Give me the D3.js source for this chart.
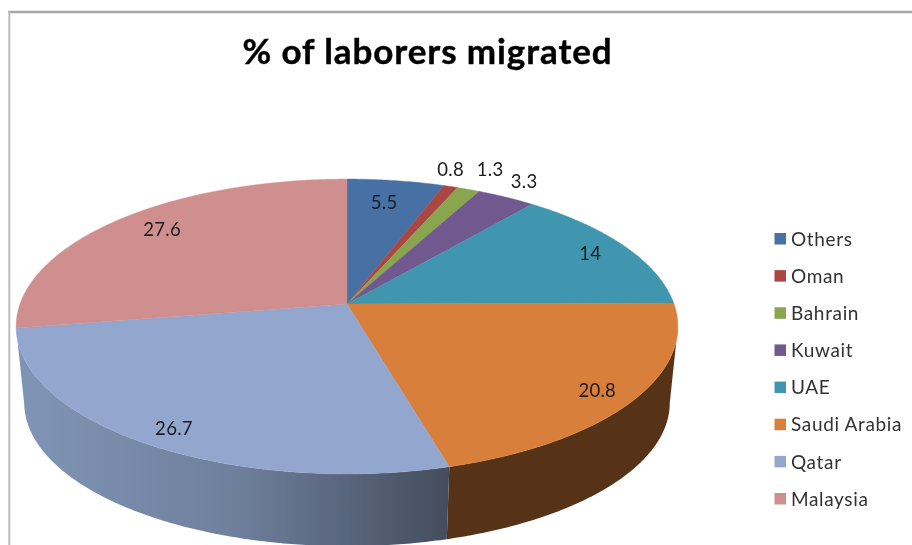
<!DOCTYPE html>
<html>
<head>
<meta charset="utf-8">
<title>% of laborers migrated</title>
<script src="https://cdn.jsdelivr.net/npm/d3@7"></script>
<style>
    html, body { margin: 0; padding: 0; background: #fff; }
    svg { display: block; }
    text { font-family: Lato, "Open Sans", sans-serif; }
</style>
</head>
<body>
<div id="chart"></div>
<script>
    // data
    const categories = ["Others", "Oman", "Bahrain", "Kuwait", "UAE", "Saudi Arabia", "Qatar", "Malaysia"];
    const shares = [5.5, 0.8, 1.3, 3.3, 14, 20.8, 26.7, 27.6];
    const colors = ["#4671a5", "#aa4643", "#89a54e", "#71588f", "#4096ae", "#d87f3b", "#92a6ce", "#cf8f8e"];

    const width = 912, height = 545;

    // perspective disc: far side is squeezed, so the apex sits above the ellipse centre
    const cx = 347, tilt = 0.1525;
    const topDisc = {y: 304, rx: 327, ry: 144};
    const bottomDisc = {y: 381, rx: 319, ry: 140};

    function project(disc, angle, r = 1) {
        let u = Math.sin(angle) * r, v = Math.cos(angle) * r;
        let d = 1 + tilt * v;
        return [cx + disc.rx * u / d, disc.y - disc.ry * v / d];
    }

    function arcPoints(disc, a0, a1) {
        let n = Math.max(2, Math.ceil(Math.abs(a1 - a0) / 0.01));
        return d3.range(n + 1).map(i => project(disc, a0 + (a1 - a0) * i / n));
    }

    let svg = d3.select("#chart").append("svg")
        .attr("width", width)
        .attr("height", height);

    let defs = svg.append("defs");
    defs.append("filter").attr("id", "soft")
        .attr("x", 0).attr("y", 0).attr("width", 1).attr("height", 1)
        .append("feGaussianBlur").attr("stdDeviation", 0.55);

    let qatarSide = defs.append("linearGradient").attr("id", "sideQatar")
        .attr("gradientUnits", "userSpaceOnUse")
        .attr("x1", 16).attr("x2", 449).attr("y1", 0).attr("y2", 0);
    qatarSide.append("stop").attr("offset", 0).attr("stop-color", "#8095b6");
    qatarSide.append("stop").attr("offset", 0.5).attr("stop-color", "#6f809d");
    qatarSide.append("stop").attr("offset", 1).attr("stop-color", "#444d5d");

    let root = svg.append("g").attr("filter", "url(#soft)");

    // chart frame, only top and left show
    root.append("rect").attr("x", 0).attr("y", 0).attr("width", width).attr("height", height).attr("fill", "#fff");
    root.append("line").attr("x1", 8).attr("x2", width).attr("y1", 12).attr("y2", 12)
        .attr("stroke", "#a8a8a8").attr("stroke-width", 2.6);
    root.append("line").attr("x1", 9.3).attr("x2", 9.3).attr("y1", 11).attr("y2", height)
        .attr("stroke", "#bdbdbd").attr("stroke-width", 2);

    root.append("text")
        .attr("x", 427.5).attr("y", 63.5)
        .attr("text-anchor", "middle")
        .attr("font-size", 35)
        .attr("font-weight", 700)
        .attr("letter-spacing", 0.9)
        .attr("stroke", "#000")
        .attr("stroke-width", 0.4)
        .attr("fill", "#000")
        .text("% of laborers migrated");

    let pie = d3.pie().sort(null).value(d => d).startAngle(0).endAngle(2 * Math.PI);
    let arcs = pie(shares);

    // walls are only visible between the two silhouette tangents
    const frontStart = Math.PI - Math.acos(tilt);
    const frontEnd = Math.PI + Math.acos(tilt);
    let line = d3.line();
    let sideFill = {"Saudi Arabia": "#563318", "Qatar": "url(#sideQatar)"};

    root.append("g").selectAll("path")
        .data(arcs.filter(d => sideFill[categories[d.index]]))
        .enter()
        .append("path")
        .attr("d", d => {
            let a0 = Math.max(d.startAngle, frontStart), a1 = Math.min(d.endAngle, frontEnd);
            let pts = arcPoints(topDisc, a0, a1).concat(arcPoints(bottomDisc, a1, a0));
            return line(pts) + "Z";
        })
        .attr("fill", d => sideFill[categories[d.index]]);

    root.append("g").selectAll("path")
        .data(arcs)
        .enter()
        .append("path")
        .attr("d", d => line([[cx, topDisc.y]].concat(arcPoints(topDisc, d.startAngle, d.endAngle))) + "Z")
        .attr("fill", d => colors[d.index])
        .attr("stroke", d => colors[d.index])
        .attr("stroke-width", 0.4);

    // label placement, by slice: radius fraction then pixel nudge
    const labelRadius = [0.8, 1.1, 1.1, 1.1, 0.8, 0.8, 0.8, 0.8];
    const labelNudge = [[-3, 0], [-9, -7], [11, -10], [4, -6], [19, -3], [25, 12], [-16, 16], [0, -5]];

    root.append("g").selectAll("text")
        .data(arcs)
        .enter()
        .append("text")
        .attr("transform", d => {
            let p = project(topDisc, (d.startAngle + d.endAngle) / 2, labelRadius[d.index]);
            let n = labelNudge[d.index];
            return `translate(${p[0] + n[0]}, ${p[1] + n[1]})`;
        })
        .attr("text-anchor", "middle")
        .attr("dy", "0.35em")
        .attr("font-size", 18.5)
        .attr("letter-spacing", 0.3)
        .attr("fill", "#1c1c1c")
        .text(d => d.data);

    // legend
    let legendY = d3.scalePoint().domain(categories).range([239, 499]);

    let legend = root.append("g").selectAll("g")
        .data(categories)
        .enter()
        .append("g")
        .attr("transform", d => `translate(774.5, ${legendY(d)})`);

    legend.append("rect")
        .attr("x", 0).attr("y", -6).attr("width", 11.5).attr("height", 11.5)
        .attr("fill", (d, i) => colors[i]);

    legend.append("text")
        .attr("x", 16.5)
        .attr("dy", "0.35em")
        .attr("font-size", 19)
        .attr("letter-spacing", 0.65)
        .attr("fill", "#333")
        .text(d => d);
</script>
</body>
</html>
